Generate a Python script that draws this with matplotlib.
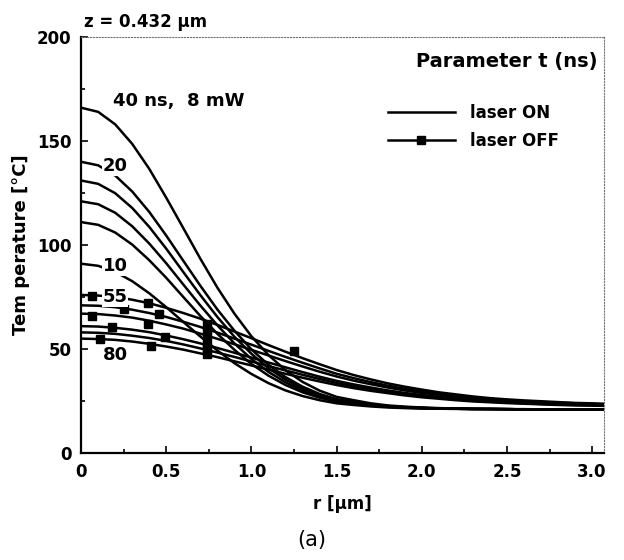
import matplotlib.pyplot as plt
from matplotlib.lines import Line2D
from matplotlib.ticker import MultipleLocator

# radial position (um)
r_um = [0.0, 0.1, 0.2, 0.3, 0.4, 0.5, 0.6, 0.7, 0.8, 0.9, 1.0, 1.1, 1.2, 1.3, 1.4, 1.5,
        1.6, 1.7, 1.8, 1.9, 2.0, 2.1, 2.2, 2.3, 2.4, 2.5, 2.6, 2.7, 2.8, 2.9, 3.0, 3.1]

# laser ON curves (temperature, degC), top to bottom at r = 0
on_1 = [166, 164.0, 158.0, 148.6, 136.6, 122.7, 108.1, 93.4, 79.5, 67.0, 56.1, 47.1, 39.8, 34.2, 30.0, 27.0,
        25.4, 23.9, 22.9, 22.3, 21.9, 21.6, 21.4, 21.3, 21.2, 21.1, 21.1, 21.0, 21.0, 21.0, 21.0, 21.0]
on_2 = [140, 138.3, 133.4, 125.7, 115.9, 104.5, 92.4, 80.4, 69.0, 58.8, 49.8, 42.4, 36.5, 31.9, 28.4, 25.9,
        24.6, 23.4, 22.5, 22.1, 21.7, 21.5, 21.4, 21.2, 21.2, 21.1, 21.0, 21.0, 21.0, 21.0, 21.0, 21.0]
on_3 = [131, 129.4, 124.9, 117.8, 108.7, 98.2, 87.0, 75.9, 65.4, 55.9, 47.7, 40.8, 35.3, 31.0, 27.8, 25.5,
        24.3, 23.2, 22.4, 22.0, 21.7, 21.4, 21.3, 21.2, 21.2, 21.1, 21.0, 21.0, 21.0, 21.0, 21.0, 21.0]
on_4 = [121, 119.6, 115.5, 109.0, 100.7, 91.2, 81.0, 70.9, 61.4, 52.7, 45.2, 39.0, 34.0, 30.1, 27.2, 25.1,
        24.0, 23.0, 22.3, 21.9, 21.6, 21.4, 21.3, 21.2, 21.2, 21.1, 21.0, 21.0, 21.0, 21.0, 21.0, 21.0]
on_5 = [111, 109.7, 106.0, 100.2, 92.7, 84.2, 75.0, 65.9, 57.3, 49.6, 42.8, 37.2, 32.7, 29.2, 26.6, 24.7,
        23.7, 22.8, 22.2, 21.8, 21.5, 21.4, 21.3, 21.2, 21.1, 21.1, 21.0, 21.0, 21.0, 21.0, 21.0, 21.0]
on_6 = [91, 90.0, 87.1, 82.6, 76.8, 70.1, 63.0, 56.0, 49.3, 43.2, 38.0, 33.6, 30.1, 27.4, 25.4, 23.9,
        23.1, 22.4, 21.9, 21.6, 21.4, 21.3, 21.2, 21.1, 21.1, 21.1, 21.0, 21.0, 21.0, 21.0, 21.0, 21.0]

# laser OFF curves, 55 ns (top) ... 80 ns (bottom)
off_1 = [76, 75.7, 75.0, 73.7, 72.0, 69.8, 67.3, 64.6, 61.6, 58.4, 55.2, 51.9, 48.7, 45.6, 42.7, 39.9,
         37.5, 35.4, 33.5, 31.9, 30.5, 29.2, 28.2, 27.2, 26.4, 25.8, 25.3, 24.9, 24.5, 24.1, 23.9, 23.6]
off_2 = [71, 70.8, 70.1, 68.9, 67.3, 65.4, 63.1, 60.6, 57.9, 55.0, 52.1, 49.1, 46.2, 43.4, 40.7, 38.1,
         36.0, 34.1, 32.4, 30.9, 29.6, 28.5, 27.5, 26.7, 26.0, 25.4, 24.9, 24.5, 24.2, 23.9, 23.6, 23.4]
off_3 = [67, 66.8, 66.1, 65.1, 63.6, 61.8, 59.8, 57.4, 54.9, 52.3, 49.6, 46.9, 44.2, 41.6, 39.1, 36.8,
         34.8, 33.1, 31.5, 30.1, 28.9, 27.9, 27.0, 26.2, 25.6, 25.0, 24.6, 24.2, 23.9, 23.6, 23.4, 23.2]
off_4 = [61, 60.8, 60.2, 59.3, 58.1, 56.5, 54.7, 52.7, 50.5, 48.2, 45.9, 43.5, 41.2, 38.9, 36.7, 34.7,
         33.0, 31.5, 30.1, 28.9, 27.9, 27.0, 26.2, 25.5, 25.0, 24.5, 24.1, 23.8, 23.5, 23.3, 23.1, 22.9]
off_5 = [58, 57.8, 57.3, 56.4, 55.3, 53.9, 52.2, 50.3, 48.3, 46.2, 44.0, 41.8, 39.7, 37.6, 35.6, 33.7,
         32.1, 30.7, 29.4, 28.3, 27.4, 26.5, 25.8, 25.2, 24.7, 24.3, 23.9, 23.6, 23.3, 23.1, 22.9, 22.8]
off_6 = [55, 54.8, 54.4, 53.6, 52.5, 51.2, 49.7, 47.9, 46.1, 44.1, 42.1, 40.1, 38.1, 36.2, 34.4, 32.7,
         31.2, 29.9, 28.8, 27.7, 26.8, 26.1, 25.4, 24.8, 24.4, 24.0, 23.7, 23.4, 23.1, 22.9, 22.8, 22.6]

# square markers on the OFF curves (r, T)
mark_r_1 = [0.065, 0.39, 0.74, 1.25]
mark_t_1 = [75.5, 72, 62, 49]
mark_r_2 = [0.25, 0.46, 0.74]
mark_t_2 = [69, 67, 59]
mark_r_3 = [0.065, 0.39, 0.74]
mark_t_3 = [66, 62, 56]
mark_r_4 = [0.18, 0.49, 0.74]
mark_t_4 = [60.5, 56, 52]
mark_r_5 = [0.74]
mark_t_5 = [50]
mark_r_6 = [0.11, 0.41, 0.74]
mark_t_6 = [55, 51.5, 47.6]

x_ticks = [0, 0.5, 1.0, 1.5, 2.0, 2.5, 3.0]
x_tick_labels = ['0', '0.5', '1.0', '1.5', '2.0', '2.5', '3.0']
y_ticks = [0, 50, 100, 150, 200]

plt.rcParams['font.family'] = ['DejaVu Sans']

fig = plt.figure(figsize=(6.24, 5.6), dpi=100)
ax = fig.add_axes([0.13, 0.191, 0.838, 0.743])

lw = 1.8
for T in [on_1, on_2, on_3, on_4, on_5, on_6]:
    ax.plot(r_um, T, color='black', lw=lw)
for T in [off_1, off_2, off_3, off_4, off_5, off_6]:
    ax.plot(r_um, T, color='black', lw=lw)
for mr, mt in [(mark_r_1, mark_t_1), (mark_r_2, mark_t_2), (mark_r_3, mark_t_3),
               (mark_r_4, mark_t_4), (mark_r_5, mark_t_5), (mark_r_6, mark_t_6)]:
    ax.plot(mr, mt, linestyle='none', marker='s', ms=6, color='black')

ax.set_xlim(0, 3.07)
ax.set_ylim(0, 200)
ax.set_xticks(x_ticks)
ax.set_xticklabels(x_tick_labels)
ax.set_yticks(y_ticks)
ax.xaxis.set_minor_locator(MultipleLocator(0.25))
ax.yaxis.set_minor_locator(MultipleLocator(25))
ax.tick_params(which='both', direction='in', width=1.2, labelsize=12, pad=7)
ax.tick_params(which='major', length=5)
ax.tick_params(which='minor', length=3)
for lab in ax.get_xticklabels() + ax.get_yticklabels():
    lab.set_fontweight('bold')

for s in ['left', 'bottom']:
    ax.spines[s].set_linewidth(1.6)
for s in ['top', 'right']:
    ax.spines[s].set_linewidth(0.8)
    ax.spines[s].set_linestyle(':')
    ax.spines[s].set_color('0.45')

ax.set_xlabel('r [µm]', fontsize=12, fontweight='bold', labelpad=10)
ax.set_ylabel('Tem perature [°C]', fontsize=13, fontweight='bold', labelpad=5)

box = dict(facecolor='white', edgecolor='none', pad=0.5)
ax.text(0.19, 169, '40 ns,  8 mW', fontsize=13, fontweight='bold', va='center', ha='left')
ax.text(0.20, 138, '20', fontsize=13, fontweight='bold', va='center', ha='center', bbox=box)
ax.text(0.20, 90, '10', fontsize=13, fontweight='bold', va='center', ha='center', bbox=box)
ax.text(0.20, 75, '55', fontsize=13, fontweight='bold', va='center', ha='center', bbox=box)
ax.text(0.20, 47, '80', fontsize=13, fontweight='bold', va='center', ha='center', bbox=box)

ax.text(0.988, 0.94, 'Parameter t (ns)', transform=ax.transAxes, fontsize=14,
        fontweight='bold', ha='right', va='center')
ax.text(0.005, 1.035, 'z = 0.432 µm', transform=ax.transAxes, fontsize=12,
        fontweight='bold', ha='left', va='center')

handles = [Line2D([], [], color='black', lw=lw),
           Line2D([], [], color='black', lw=lw, marker='s', ms=6)]
ax.legend(handles, ['laser ON', 'laser OFF'], loc='center left', bbox_to_anchor=(0.587, 0.784),
          frameon=False, borderpad=0, borderaxespad=0, handlelength=4.0, handletextpad=0.9,
          labelspacing=0.6, prop={'size': 12, 'weight': 'bold'})

fig.text(0.5, 0.035, '(a)', fontsize=15, ha='center', va='center')

fig.savefig('out.png', dpi=100)
